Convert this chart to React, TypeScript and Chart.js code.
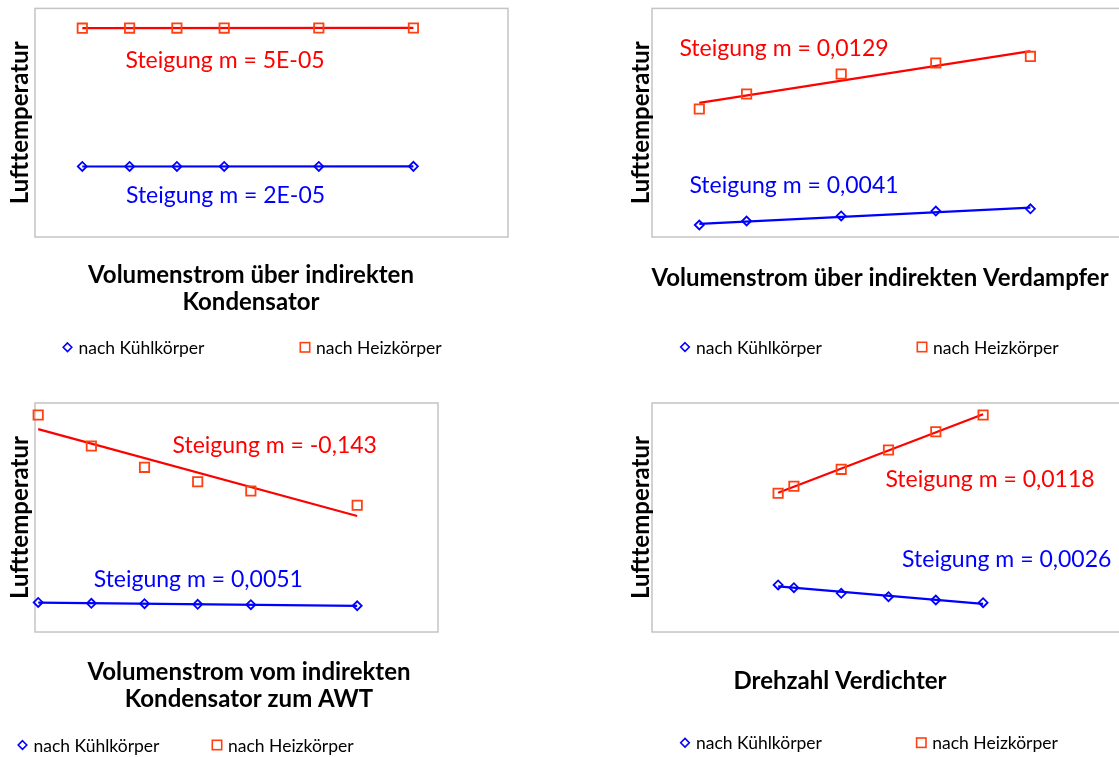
import React, { useEffect, useRef } from 'react';
import { Chart, registerables } from 'chart.js';

Chart.register(...registerables);

// Volumenstrom über indirekten Kondensator
const kondX = [100, 150, 200, 250, 350, 450];
const kondKuehl = [10.17, 10.17, 10.17, 10.17, 10.17, 10.18];
const kondHeiz = [22.27, 22.28, 22.28, 22.28, 22.29, 22.29];

// Volumenstrom über indirekten Verdampfer
const verdX = [100, 150, 250, 350, 450];
const verdKuehl = [5.05, 5.4, 5.84, 6.27, 6.47];
const verdHeiz = [15.2, 16.51, 18.26, 19.22, 19.8];

// Volumenstrom vom indirekten Kondensator zum AWT
const awtX = [20, 40, 60, 80, 100, 140];
const awtKuehl = [15.8, 15.64, 15.56, 15.44, 15.36, 15.16];
const awtHeiz = [52.64, 46.55, 42.36, 39.53, 37.71, 34.9];

// Drehzahl Verdichter
const drehX = [1800, 1900, 2200, 2500, 2800, 3100];
const drehKuehl = [19.24, 18.71, 17.6, 16.93, 16.29, 15.76];
const drehHeiz = [37.26, 38.63, 41.97, 45.76, 49.36, 52.64];

const seriesNames = ['nach Kühlkörper', 'nach Heizkörper'];
const yAxisTitle = 'Lufttemperatur';

const slopeKond = ['Steigung m = 2E-05', 'Steigung m = 5E-05'];
const slopeVerd = ['Steigung m = 0,0041', 'Steigung m = 0,0129'];
const slopeAwt = ['Steigung m = 0,0051', 'Steigung m = -0,143'];
const slopeDreh = ['Steigung m = 0,0026', 'Steigung m = 0,0118'];

const BLUE = '#0000FF';
const RED = '#FF0000';
const MARKER_RED = '#FF4010';
const FONT = 'Lato, "Open Sans", sans-serif';

// least-squares trendline between the first and last x value
function trend(xs: number[], ys: number[]) {
  const n = xs.length;
  const mx = xs.reduce((a, b) => a + b, 0) / n;
  const my = ys.reduce((a, b) => a + b, 0) / n;
  let sxy = 0;
  let sxx = 0;
  for (let i = 0; i < n; i++) {
    sxy += (xs[i] - mx) * (ys[i] - my);
    sxx += (xs[i] - mx) * (xs[i] - mx);
  }
  const m = sxy / sxx;
  const b = my - m * mx;
  return [xs[0], xs[n - 1]].map((x) => ({ x, y: b + m * x }));
}

const pts = (xs: number[], ys: number[]) => xs.map((x, i) => ({ x, y: ys[i] }));

type PanelCfg = {
  left: number;
  top: number;
  w: number;
  h: number;
  pad: { left: number; top: number; right: number; bottom: number };
  xRange: [number, number];
  yRange: [number, number];
  xs: number[];
  kuehl: number[];
  heiz: number[];
  slopes: string[];
  xTitle: string[];
  text: {
    yTitleX: number;
    xTitleX: number;
    xTitleY: number;
    kuehlLabel: [number, number];
    heizLabel: [number, number];
    legend: [number, number, number];
  };
};

const panels: PanelCfg[] = [
  {
    left: 0, top: 0, w: 560, h: 390,
    pad: { left: 35, top: 8, right: 52, bottom: 153 },
    xRange: [50, 550], yRange: [4, 24],
    xs: kondX, kuehl: kondKuehl, heiz: kondHeiz, slopes: slopeKond,
    xTitle: ['Volumenstrom über indirekten', 'Kondensator'],
    text: {
      yTitleX: 20.5, xTitleX: 251, xTitleY: 283,
      kuehlLabel: [225.5, 202.7], heizLabel: [225, 67.7],
      legend: [67.5, 305, 347.3],
    },
  },
  {
    left: 620, top: 0, w: 560, h: 390,
    pad: { left: 32, top: 8, right: 55, bottom: 153 },
    xRange: [50, 550], yRange: [4, 24],
    xs: verdX, kuehl: verdKuehl, heiz: verdHeiz, slopes: slopeVerd,
    xTitle: ['Volumenstrom über indirekten Verdampfer'],
    text: {
      yTitleX: 21, xTitleX: 260, xTitleY: 286,
      kuehlLabel: [174, 192.7], heizLabel: [164, 56],
      legend: [65, 302, 347],
    },
  },
  {
    left: 0, top: 390, w: 560, h: 367,
    pad: { left: 35, top: 13, right: 122, bottom: 125 },
    xRange: [18.8, 170.4], yRange: [10, 55],
    xs: awtX, kuehl: awtKuehl, heiz: awtHeiz, slopes: slopeAwt,
    xTitle: ['Volumenstrom vom indirekten', 'Kondensator zum AWT'],
    text: {
      yTitleX: 20, xTitleX: 249, xTitleY: 290,
      kuehlLabel: [198.3, 196.7], heizLabel: [274.7, 62.7],
      legend: [22.5, 217, 355],
    },
  },
  {
    left: 620, top: 390, w: 560, h: 367,
    pad: { left: 32, top: 13, right: 55, bottom: 125 },
    xRange: [1000, 4000], yRange: [10, 55],
    xs: drehX, kuehl: drehKuehl, heiz: drehHeiz, slopes: slopeDreh,
    xTitle: ['Drehzahl Verdichter'],
    text: {
      yTitleX: 21, xTitleX: 220, xTitleY: 299,
      kuehlLabel: [386.7, 176.7], heizLabel: [370, 96.7],
      legend: [65, 301.3, 352.7],
    },
  },
];

function diamond(ctx: CanvasRenderingContext2D, x: number, y: number, r: number) {
  ctx.beginPath();
  ctx.moveTo(x, y - r);
  ctx.lineTo(x + r, y);
  ctx.lineTo(x, y + r);
  ctx.lineTo(x - r, y);
  ctx.closePath();
  ctx.stroke();
}

const plotFrame = {
  id: 'plotFrame',
  beforeDatasetsDraw(chart: any) {
    const { ctx, chartArea: a } = chart;
    ctx.save();
    ctx.strokeStyle = '#C4C4C4';
    ctx.lineWidth = 1.5;
    ctx.strokeRect(a.left, a.top, a.right - a.left, a.bottom - a.top);
    ctx.restore();
  },
};

const panelText = {
  id: 'panelText',
  afterDraw(chart: any, _args: any, opts: any) {
    const cfg: PanelCfg = opts.cfg;
    const t = cfg.text;
    const { ctx, chartArea: a } = chart;
    ctx.save();

    // y-axis title
    ctx.save();
    ctx.translate(t.yTitleX, (a.top + a.bottom) / 2);
    ctx.rotate(-Math.PI / 2);
    ctx.font = `bold 24px ${FONT}`;
    ctx.fillStyle = '#000';
    ctx.textAlign = 'center';
    ctx.textBaseline = 'middle';
    ctx.fillText(yAxisTitle, 0, 0);
    ctx.restore();

    // x-axis title
    ctx.font = `bold 24px ${FONT}`;
    ctx.fillStyle = '#000';
    ctx.textAlign = 'center';
    ctx.textBaseline = 'alphabetic';
    cfg.xTitle.forEach((line, i) => ctx.fillText(line, t.xTitleX, t.xTitleY + i * 27));

    // slope labels
    ctx.font = `23px ${FONT}`;
    ctx.fillStyle = RED;
    ctx.fillText(cfg.slopes[1], t.heizLabel[0], t.heizLabel[1]);
    ctx.fillStyle = BLUE;
    ctx.fillText(cfg.slopes[0], t.kuehlLabel[0], t.kuehlLabel[1]);

    // legend
    const [x1, x2, ly] = t.legend;
    ctx.lineWidth = 1.6;
    ctx.strokeStyle = BLUE;
    diamond(ctx, x1, ly, 4.3);
    ctx.strokeStyle = MARKER_RED;
    ctx.strokeRect(x2 - 4.7, ly - 4.7, 9.4, 9.4);
    ctx.font = `17.5px ${FONT}`;
    ctx.fillStyle = '#000';
    ctx.textAlign = 'left';
    ctx.textBaseline = 'middle';
    ctx.fillText(seriesNames[0], x1 + 11, ly + 1);
    ctx.fillText(seriesNames[1], x2 + 11, ly + 1);
    ctx.restore();
  },
};

function Panel({ cfg }: { cfg: PanelCfg }) {
  const ref = useRef<HTMLCanvasElement>(null);
  useEffect(() => {
    const chart = new Chart(ref.current as HTMLCanvasElement, {
      type: 'scatter',
      data: {
        datasets: [
          {
            label: seriesNames[0],
            data: pts(cfg.xs, cfg.kuehl),
            pointStyle: 'rectRot',
            pointRadius: 4.5,
            borderColor: BLUE,
            backgroundColor: 'transparent',
            borderWidth: 1.8,
            clip: false,
          },
          {
            label: seriesNames[1],
            data: pts(cfg.xs, cfg.heiz),
            pointStyle: 'rect',
            pointRadius: 6.6,
            borderColor: MARKER_RED,
            backgroundColor: 'transparent',
            borderWidth: 1.8,
            clip: false,
          },
          {
            label: 'Trend ' + seriesNames[0],
            data: trend(cfg.xs, cfg.kuehl),
            showLine: true,
            pointRadius: 0,
            borderColor: BLUE,
            borderWidth: 2.2,
            clip: false,
          },
          {
            label: 'Trend ' + seriesNames[1],
            data: trend(cfg.xs, cfg.heiz),
            showLine: true,
            pointRadius: 0,
            borderColor: RED,
            borderWidth: 2.2,
            clip: false,
          },
        ],
      },
      options: {
        animation: false,
        responsive: false,
        devicePixelRatio: 1,
        layout: { padding: cfg.pad },
        scales: {
          x: { type: 'linear', min: cfg.xRange[0], max: cfg.xRange[1], display: false },
          y: { type: 'linear', min: cfg.yRange[0], max: cfg.yRange[1], display: false },
        },
        plugins: {
          legend: { display: false },
          tooltip: { enabled: false },
          panelText: { cfg },
        } as any,
      },
      plugins: [plotFrame, panelText],
    });
    return () => chart.destroy();
  }, [cfg]);
  return (
    <canvas
      ref={ref}
      width={cfg.w}
      height={cfg.h}
      style={{ position: 'absolute', left: cfg.left, top: cfg.top, width: cfg.w, height: cfg.h }}
    />
  );
}

export default function App() {
  return (
    <div
      style={{
        position: 'fixed',
        left: 0,
        top: 0,
        width: 1119,
        height: 757,
        overflow: 'hidden',
        background: '#fff',
      }}
    >
      {panels.map((p, i) => (
        <Panel key={i} cfg={p} />
      ))}
    </div>
  );
}
